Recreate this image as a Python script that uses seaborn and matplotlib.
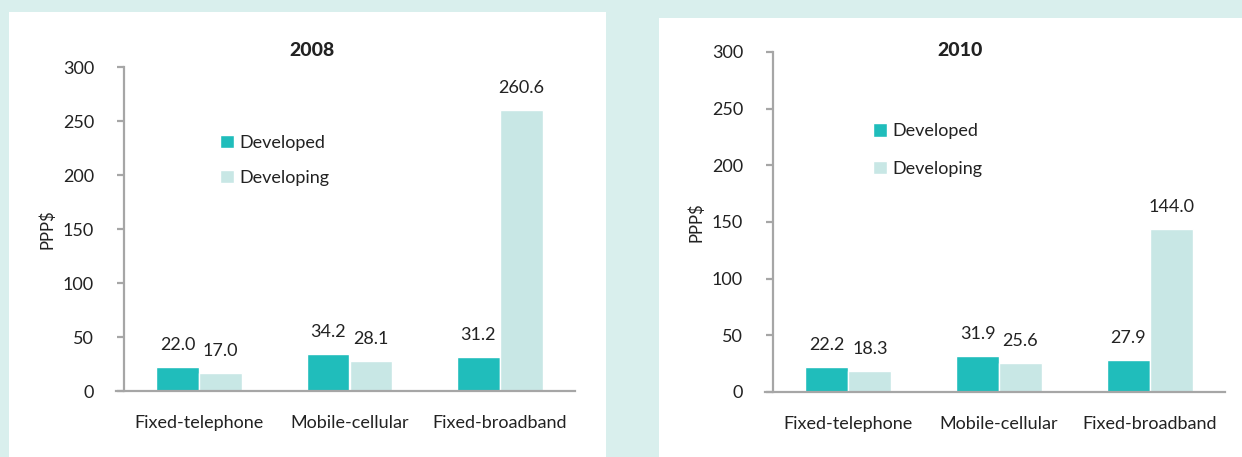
import matplotlib
matplotlib.use("Agg")
import matplotlib.pyplot as plt
import seaborn as sns
import pandas as pd
from matplotlib.patches import Rectangle

categories = ["Fixed-telephone", "Mobile-cellular", "Fixed-broadband"]
groups = ["Developed", "Developing"]
developed_2008 = [22.0, 34.2, 31.2]
developing_2008 = [17.0, 28.1, 260.6]
developed_2010 = [22.2, 31.9, 27.9]
developing_2010 = [18.3, 25.6, 144.0]
yticks = [0, 50, 100, 150, 200, 250, 300]

BG = "#D9EFED"
DEV = "#20BDBB"
DEVING = "#C8E7E5"
GRAY = "#A6A6A6"
TXT = "#222222"
FS = 13

sns.set_theme(style="white")
plt.rcParams["font.family"] = ["Lato", "DejaVu Sans"]

W, H = 1242, 457
fig = plt.figure(figsize=(W / 100, H / 100), dpi=100, facecolor=BG)

def px(x0, y0, x1, y1):
    return [x0 / W, 1 - y1 / H, (x1 - x0) / W, (y1 - y0) / H]

# white panels
for (x0, y0, x1, y1) in [(9, 12, 606, 457), (659, 18, 1242, 457)]:
    fig.patches.append(Rectangle((x0 / W, 1 - y1 / H), (x1 - x0) / W, (y1 - y0) / H,
                                 transform=fig.transFigure, facecolor="white",
                                 edgecolor="none", zorder=-10))

def make_df(dev, deving):
    rows = []
    for c, a, b in zip(categories, dev, deving):
        rows.append({"category": c, "group": groups[0], "value": a})
        rows.append({"category": c, "group": groups[1], "value": b})
    return pd.DataFrame(rows)

panels = [
    (make_df(developed_2008, developing_2008), "2008", px(124, 67, 575, 391), (312, 50), (0.213, 0.79), 1.05),
    (make_df(developed_2010, developing_2010), "2010", px(773, 52, 1225, 392), (960, 50), (0.222, 0.79), 1.2),
]

for df, title, rect, tpos, legpos, lspace in panels:
    ax = fig.add_axes(rect, zorder=5)
    ax.set_facecolor("none")
    sns.barplot(data=df, x="category", y="value", hue="group", order=categories,
                hue_order=groups, palette=[DEV, DEVING], width=0.57, saturation=1,
                ax=ax, errorbar=None)
    ax.set_ylim(0, 300)
    ax.set_xlim(-0.5, 2.5)
    ax.set_yticks(yticks)
    ax.set_xlabel("")
    ax.set_ylabel("PPP$", fontsize=12, color=TXT)
    ax.yaxis.set_label_coords(-0.152, 0.5)
    for s in ["top", "right"]:
        ax.spines[s].set_visible(False)
    for s in ["left", "bottom"]:
        ax.spines[s].set_color(GRAY)
        ax.spines[s].set_linewidth(1.6)
    ax.spines["bottom"].set_bounds(-0.555, 2.5)
    ax.tick_params(axis="y", length=5, width=1.6, color=GRAY, pad=16.5,
                   labelsize=FS, labelcolor=TXT, left=True, direction="out")
    ax.tick_params(axis="x", length=0, pad=17, labelsize=FS, labelcolor=TXT)
    for cont in ax.containers:
        ax.bar_label(cont, fmt="%.1f", padding=10, fontsize=FS, color=TXT)
    leg = ax.legend(loc="upper left", bbox_to_anchor=legpos, frameon=False,
                    fontsize=FS, handlelength=0.75, handleheight=0.75,
                    handletextpad=0.3, labelspacing=lspace, borderpad=0,
                    borderaxespad=0)
    for t in leg.get_texts():
        t.set_color(TXT)
    fig.text(tpos[0] / W, 1 - tpos[1] / H, title, ha="center", va="center",
             fontsize=14, fontweight="black", color=TXT)

fig.savefig("out.png", dpi=100, facecolor=BG)
